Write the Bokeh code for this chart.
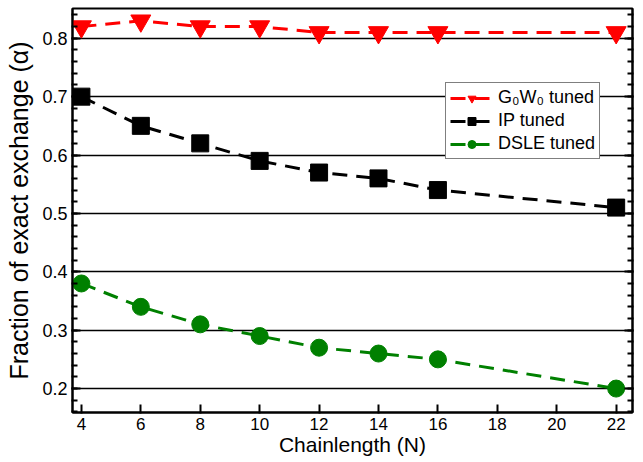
from bokeh.plotting import figure
from bokeh.models import FixedTicker, LinearAxis, Range1d, Legend, LegendItem, CustomJSTickFormatter
from bokeh.embed import file_html
from bokeh.resources import INLINE

chain = [4, 6, 8, 10, 12, 14, 16, 22]
g0w0 = [0.82, 0.83, 0.82, 0.82, 0.81, 0.81, 0.81, 0.81]
ip = [0.70, 0.65, 0.62, 0.59, 0.57, 0.56, 0.54, 0.51]
dsle = [0.38, 0.34, 0.31, 0.29, 0.27, 0.26, 0.25, 0.20]
xticks = [4, 6, 8, 10, 12, 14, 16, 18, 20, 22]
yticks = [0.2, 0.3, 0.4, 0.5, 0.6, 0.7, 0.8]
yminor = [round(0.16 + 0.02 * i, 2) for i in range(35)]

X0, X1 = 3.7, 22.55
Y0, Y1 = 0.159, 0.851
FONT = "Liberation Sans"

p = figure(width=643, height=462, output_backend="svg", toolbar_location=None,
           x_range=Range1d(X0, X1), y_range=Range1d(Y0, Y1),
           min_border_left=72, min_border_right=11, min_border_top=8, min_border_bottom=50)
p.background_fill_color = "white"
p.border_fill_color = "white"
p.outline_line_color = "black"
p.outline_line_width = 2

p.xgrid.visible = False
p.ygrid.ticker = FixedTicker(ticks=yticks)
p.ygrid.grid_line_color = "black"
p.ygrid.grid_line_width = 1.5

xa = p.xaxis[0]
xa.ticker = FixedTicker(ticks=xticks)
xa.axis_label = "Chainlength (N)"
ya = p.yaxis[0]
ya.ticker = FixedTicker(ticks=yticks, minor_ticks=yminor)
ya.axis_label = "Fraction of exact exchange (\u03b1)"

ra = LinearAxis(ticker=FixedTicker(ticks=yticks, minor_ticks=yminor),
                formatter=CustomJSTickFormatter(code="return ''"))
ra.major_label_standoff = 0
p.add_layout(ra, "right")

for ax in (xa, ya, ra):
    ax.axis_line_width = 2
    ax.axis_line_color = "black"
    ax.major_tick_in = 8
    ax.major_tick_out = 1
    ax.minor_tick_in = 5
    ax.minor_tick_out = 1
    ax.major_tick_line_color = "black"
    ax.minor_tick_line_color = "black"
    ax.major_tick_line_width = 2
    ax.minor_tick_line_width = 2
    ax.major_label_text_font = FONT
    ax.major_label_text_color = "black"
    ax.axis_label_text_font = FONT
    ax.axis_label_text_font_style = "normal"
    ax.axis_label_text_color = "black"
ya.major_label_text_font_size = "18px"
ya.axis_label_text_font_size = "25px"
ya.major_label_standoff = 4
ya.axis_label_standoff = 6
xa.major_label_text_font_size = "17px"
xa.axis_label_text_font_size = "21px"
xa.major_label_standoff = 4
xa.axis_label_standoff = 0
xa.minor_tick_line_color = None

dash = "15 9"
l1 = p.line(chain, g0w0, line_color="#ff0000", line_width=3, line_dash=dash)
m1 = p.scatter(chain, g0w0, marker="inverted_triangle", size=20, color="#ff0000")
l2 = p.line(chain, ip, line_color="black", line_width=3, line_dash=dash)
m2 = p.scatter(chain, ip, marker="square", size=17, color="black")
l3 = p.line(chain, dsle, line_color="#008000", line_width=3, line_dash=dash)
m3 = p.scatter(chain, dsle, marker="circle", size=17, color="#008000")

legend = Legend(items=[
    LegendItem(label="G\u2080W\u2080 tuned", renderers=[l1, m1]),
    LegendItem(label="IP tuned", renderers=[l2, m2]),
    LegendItem(label="DSLE tuned", renderers=[l3, m3]),
], location=(373, 253))
legend.label_text_font = FONT
legend.label_text_font_size = "18px"
legend.label_text_color = "black"
legend.border_line_color = "black"
legend.border_line_width = 1
legend.background_fill_alpha = 1
legend.glyph_width = 43
legend.glyph_height = 20
legend.label_height = 20
legend.spacing = 2
legend.padding = 4
legend.margin = 0
legend.label_standoff = 5
p.add_layout(legend, "center")

open("out.html", "w").write(file_html(p, INLINE))
